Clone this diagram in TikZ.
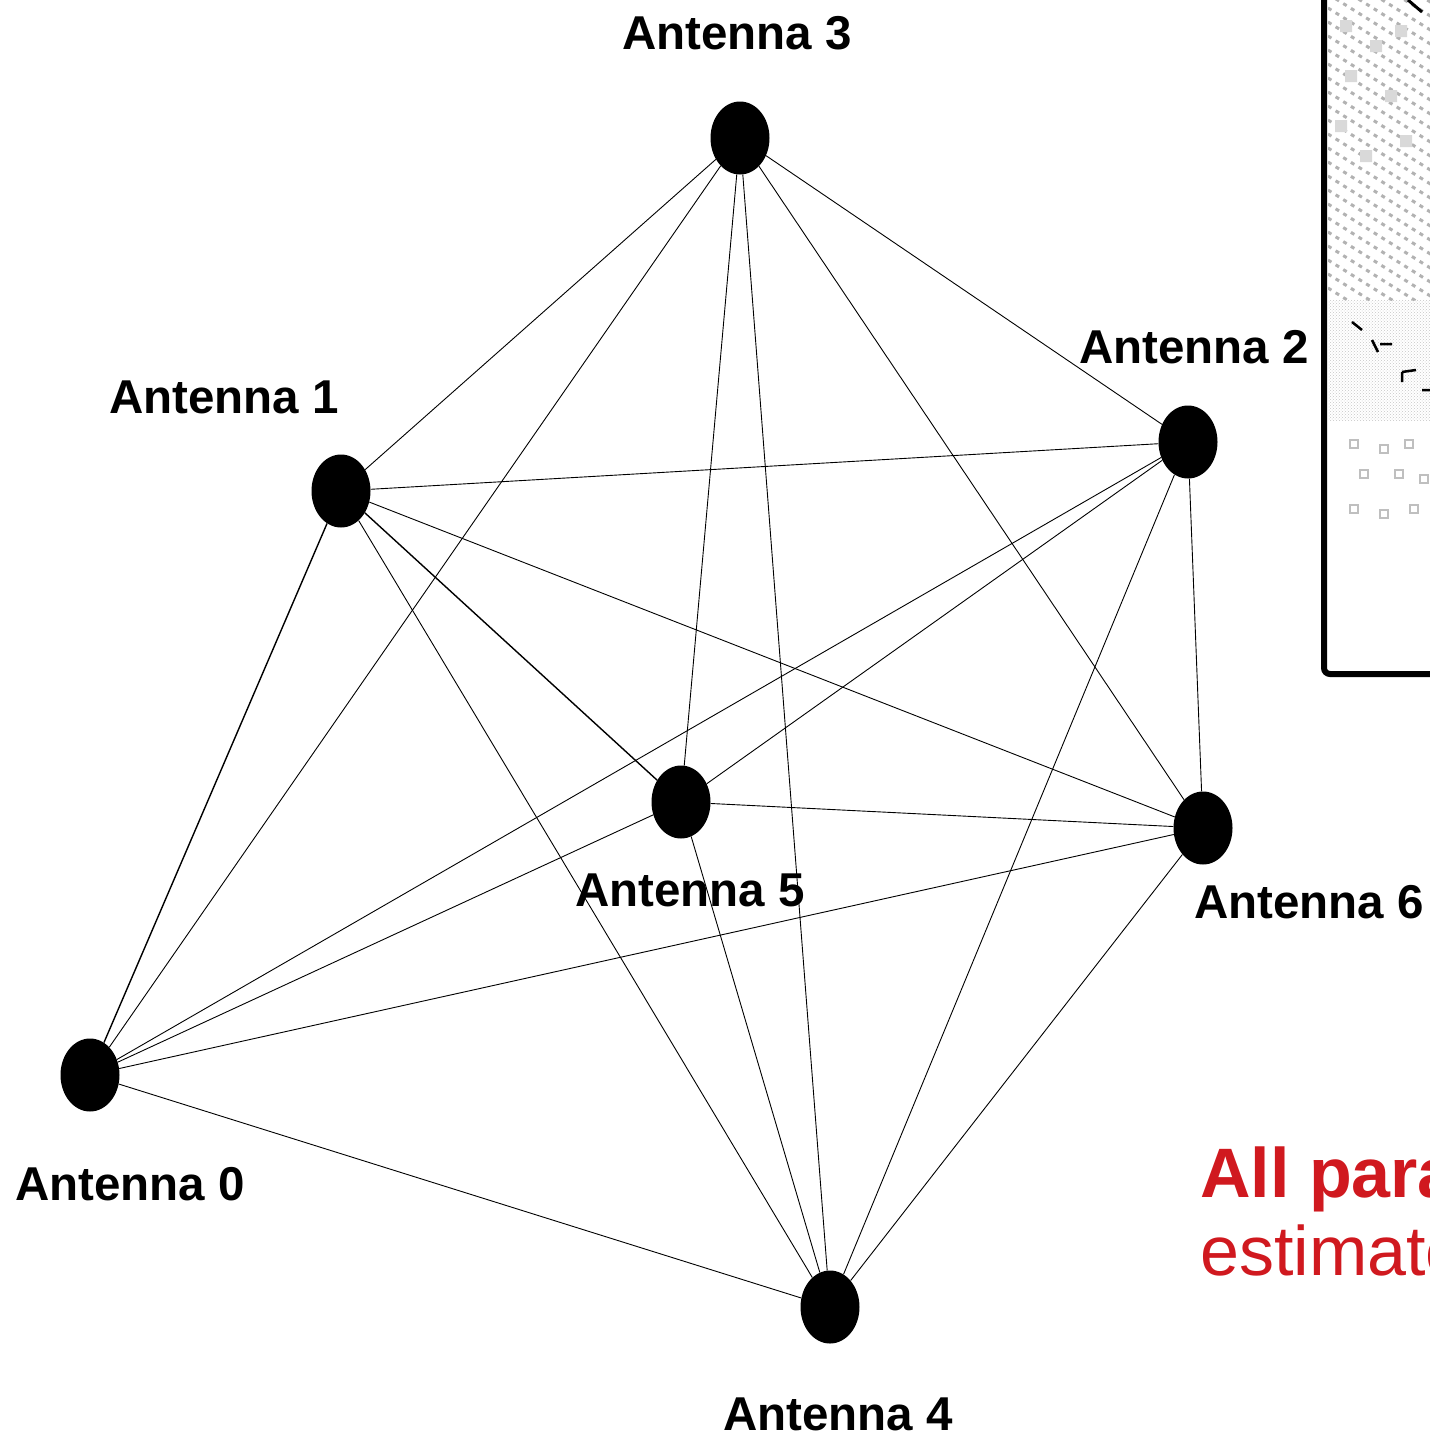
\documentclass[tikz,border=0pt]{standalone}
\usepackage{fontspec}
\setmainfont{Liberation Sans}
\usetikzlibrary{shapes.geometric,patterns}
\definecolor{redtxt}{HTML}{D0191F}
\begin{document}
\begin{tikzpicture}[x=1pt,y=-1pt,
  ant/.style={ellipse,fill=black,draw=none,minimum width=59pt,minimum height=73pt,inner sep=0pt},
  lbl/.style={inner sep=0pt,font=\fontsize{47.5}{50}\selectfont\bfseries},
  edge/.style={line width=0.9pt,black},
  redbig/.style={inner sep=0pt,anchor=base west,text=redtxt,font=\fontsize{70}{72}\selectfont}]
\useasboundingbox (0,0) rectangle (1430,1436);
\clip (0,0) rectangle (1430,1436);
% cropped image at top right
\begin{scope}
  \clip (1328,0) rectangle (1430,300);
  \foreach \k in {-300,-286,...,300}
    \draw[gray!60,line width=3pt,dash pattern=on 4pt off 5pt] (1328,\k) -- ++(160,100);
  \fill[gray!30] (1340,20) rectangle (1352,32) (1370,40) rectangle (1382,52) (1395,25) rectangle (1407,37)
    (1345,70) rectangle (1357,82) (1385,90) rectangle (1397,102) (1335,120) rectangle (1347,132)
    (1400,135) rectangle (1412,147) (1360,150) rectangle (1372,162);
\end{scope}
\begin{scope}
  \clip (1328,300) rectangle (1430,540);
  \fill[pattern=crosshatch dots,pattern color=gray!45] (1328,300) rectangle (1430,420);
  \foreach \xx/\yy in {1350/440,1380/445,1405/440,1360/470,1395/470,1420/475,1350/505,1380/510,1410/505}
    \draw[gray!50,line width=2pt] (\xx,\yy) rectangle ++(8,8);
\end{scope}
\begin{scope}
  \clip (1328,0) rectangle (1430,672);
  \draw[line width=3pt] (1408,0) -- (1422,12);
  \draw[line width=2.5pt] (1352,322) -- (1362,330) (1372,340) -- (1378,352) (1380,344) -- (1392,344);
  \draw[line width=2.5pt] (1402,372) -- (1402,382) (1402,372) -- (1416,370) (1422,390) -- (1430,390);
\end{scope}
\draw[line width=6pt,rounded corners=6pt] (1324,-10) -- (1324,674) -- (1440,674);
% nodes
\node[ant] (a3) at (740,138) {};
\node[ant] (a1) at (341,491) {};
\node[ant] (a2) at (1188,442) {};
\node[ant] (a5) at (681,802) {};
\node[ant] (a6) at (1203,828) {};
\node[ant] (a0) at (90,1075) {};
\node[ant] (a4) at (830,1307) {};
% edges
\foreach \u/\v in {a3/a1,a3/a0,a3/a5,a3/a4,a3/a6,a3/a2,
                   a1/a2,a1/a6,a1/a4,
                   a2/a0,a2/a5,a2/a4,a2/a6,
                   a5/a6,a5/a0,a5/a4,
                   a6/a0,a6/a4,
                   a0/a4}
  \draw[edge] (\u) -- (\v);
\draw[edge,line width=1.4pt] (a0) -- (a1);
\draw[edge,line width=1.4pt] (a1) -- (a5);
% labels
\node[lbl] (l3) at (737,33) {Antenna 3};
\node[lbl] (l1) at (224,397) {Antenna 1};
\node[lbl] (l2) at (1194,347) {Antenna 2};
\node[lbl] (l5) at (690,890) {Antenna 5};
\node[lbl] (l6) at (1309,902) {Antenna 6};
\node[lbl] (l0) at (130,1184) {Antenna 0};
\node[lbl] (l4) at (838,1414) {Antenna 4};
% red text
\node[redbig,font=\fontsize{70}{72}\selectfont\bfseries] (r1) at (1200,1197) {All parameters};
\node[redbig] (r2) at (1200,1275) {estimated};
\end{tikzpicture}
\end{document}
